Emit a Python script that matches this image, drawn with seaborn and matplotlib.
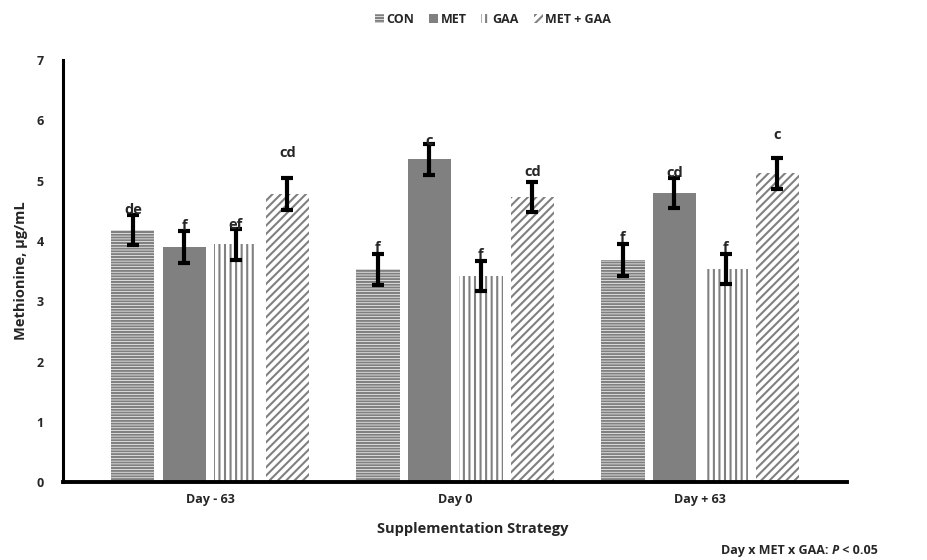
import pandas as pd
import matplotlib
matplotlib.use("Agg")
import matplotlib.pyplot as plt
import matplotlib.patches as mpatches
import seaborn as sns

# Data
days = ["Day - 63", "Day 0", "Day + 63"]
treatments = ["CON", "MET", "GAA", "MET + GAA"]
con = [4.18, 3.53, 3.68]
met = [3.90, 5.35, 4.80]
gaa = [3.94, 3.42, 3.53]
met_gaa = [4.78, 4.73, 5.12]
con_se = [0.25, 0.26, 0.26]
met_se = [0.26, 0.25, 0.25]
gaa_se = [0.25, 0.25, 0.25]
met_gaa_se = [0.26, 0.25, 0.26]
con_letters = ["de", "f", "f"]
met_letters = ["f", "c", "cd"]
gaa_letters = ["ef", "f", "f"]
met_gaa_letters = ["cd", "cd", "c"]

values = [con, met, gaa, met_gaa]
errors = [con_se, met_se, gaa_se, met_gaa_se]
letters = [con_letters, met_letters, gaa_letters, met_gaa_letters]

df = pd.DataFrame({
    "day": days * 4,
    "treatment": [t for t in treatments for _ in days],
    "value": con + met + gaa + met_gaa,
})

sns.set_style("white")
plt.rcParams["font.family"] = ["Open Sans", "DejaVu Sans"]
plt.rcParams["font.weight"] = "bold"
plt.rcParams["hatch.linewidth"] = 1.5
plt.rcParams["hatch.color"] = "#808080"

gray = "#808080"
palette = {"CON": "white", "MET": gray, "GAA": "white", "MET + GAA": "white"}
hatches = ["------", "", "|||", "////"]

fig = plt.figure(figsize=(9.27, 5.6), dpi=100)
ax = fig.add_axes([0.068, 0.139, 0.846, 0.754])

sns.barplot(data=df, x="day", y="value", hue="treatment", order=days,
            hue_order=treatments, palette=palette, width=0.84, gap=0.16,
            errorbar=None, legend=False, ax=ax)

# extra room above the letters for the last treatment
label_offset = [[0.08, 0.1, 0.1], [0.08, 0.06, 0.08], [0.08, 0.1, 0.1], [0.42, 0.17, 0.37]]

bar_groups = list(ax.containers)
for i, cont in enumerate(bar_groups):
    for j, bar in enumerate(cont.patches):
        bar.set_hatch(hatches[i])
        bar.set_edgecolor(gray)
        bar.set_linewidth(0)
        xc = bar.get_x() + bar.get_width() / 2
        ax.errorbar(xc, values[i][j], yerr=errors[i][j], color="black",
                    elinewidth=3, capsize=4.5, capthick=3, zorder=5)
        ax.text(xc, values[i][j] + errors[i][j] + label_offset[i][j], letters[i][j],
                ha="center", va="center", fontsize=10.5, fontweight="bold", zorder=6)

ax.set_ylim(0, 7)
ax.set_xlim(-0.6, 2.6)
ax.set_yticks(range(0, 8))
ax.tick_params(axis="both", length=0, labelsize=9)
ax.tick_params(axis="y", pad=14)
ax.tick_params(axis="x", pad=8)
for lab in ax.get_xticklabels() + ax.get_yticklabels():
    lab.set_fontweight("bold")
sns.despine(ax=ax)
ax.spines["left"].set_linewidth(2.2)
ax.spines["bottom"].set_linewidth(2.8)
ax.spines["left"].set_color("black")
ax.spines["bottom"].set_color("black")

ax.set_xlabel("Supplementation Strategy", fontsize=10.5, fontweight="bold")
ax.xaxis.set_label_coords(0.522, -0.095)
ax.set_ylabel("Methionine, µg/mL", fontsize=10.5, fontweight="bold", labelpad=6)

handles = []
for i, t in enumerate(treatments):
    handles.append(mpatches.Patch(facecolor=palette[t], edgecolor=gray, linewidth=0,
                                  hatch=hatches[i], label=t))
fig.legend(handles=handles, loc="upper center", bbox_to_anchor=(0.532, 0.997), ncol=4,
           frameon=False, handlelength=0.7, handleheight=0.7, handletextpad=0.2,
           columnspacing=1.2, prop={"weight": "bold", "size": 9})

# note with italic P
renderer = fig.canvas.get_renderer()
t1 = fig.text(0.778, 0.006, "Day x MET x GAA: ", fontsize=9, fontweight="bold", va="bottom")
bb = t1.get_window_extent(renderer).transformed(fig.transFigure.inverted())
t2 = fig.text(bb.x1, 0.006, "P", fontsize=9, fontweight="bold", style="italic", va="bottom")
bb2 = t2.get_window_extent(renderer).transformed(fig.transFigure.inverted())
fig.text(bb2.x1, 0.006, " < 0.05", fontsize=9, fontweight="bold", va="bottom")

fig.savefig("out.png", dpi=100)
